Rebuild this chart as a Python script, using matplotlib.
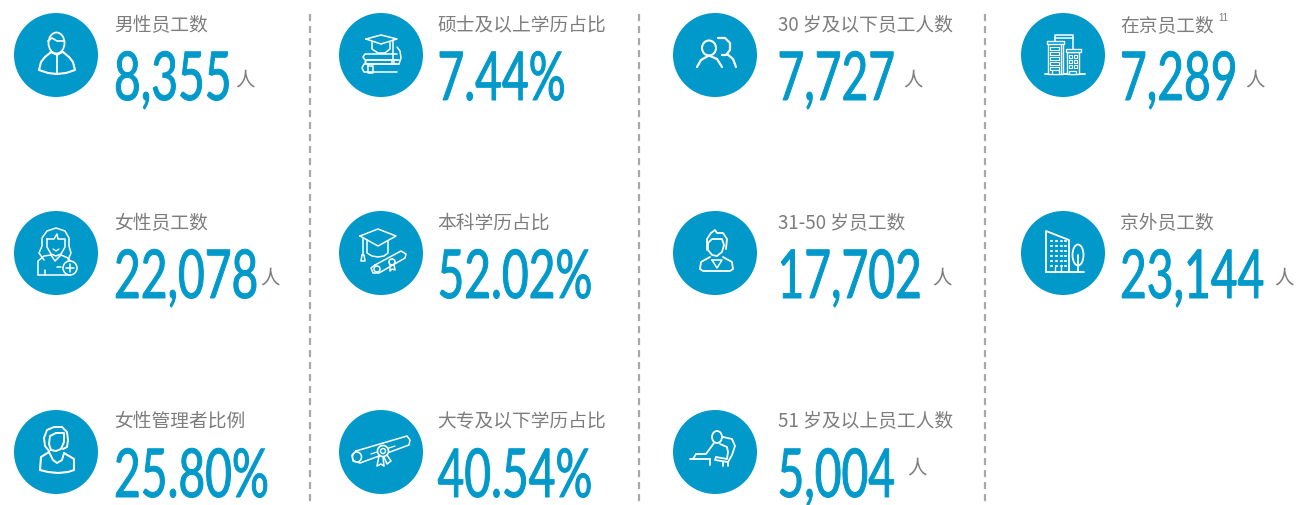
"""KPI panel: headcount and education/age/location stats, drawn in pixel coordinates."""
import matplotlib
matplotlib.use("Agg")
import matplotlib.pyplot as plt
import numpy as np
from matplotlib.patches import Circle, Ellipse, Rectangle
from matplotlib.patheffects import AbstractPathEffect
from matplotlib.transforms import Affine2D, Bbox

W, H = 1302, 505
BLUE = "#0099c9"
GREY = "#7d7d7d"
LINE = "#a9a9a9"
CJK = ["Noto Sans CJK SC", "DejaVu Sans"]

col1_labels = ["男性员工数", "女性员工数", "女性管理者比例"]
col1_values = ["8,355", "22,078", "25.80%"]
col2_labels = ["硕士及以上学历占比", "本科学历占比", "大专及以下学历占比"]
col2_values = ["7.44%", "52.02%", "40.54%"]
col3_labels = ["30 岁及以下员工人数", "31-50 岁员工数", "51 岁及以上员工人数"]
col3_values = ["7,727", "17,702", "5,004"]
col4_labels = ["在京员工数", "京外员工数"]
col4_values = ["7,289", "23,144"]
unit = "人"
footnote = "11"

ROW_Y = [55, 253, 452]
LABEL_Y = [25.5, 223.5, 421.5]
BASE_Y = [100, 298, 497]
DIVIDERS = [310, 639, 985]
NUM_SX = 0.685


class Squeeze(AbstractPathEffect):
    # condensed look: no condensed font installed that matches, so narrow the
    # glyphs and add a little stroke back
    def __init__(self, sx, extra=1.0):
        super().__init__()
        self.sx = sx
        self.extra = extra

    def draw_path(self, renderer, gc, tpath, affine, rgbFace=None):
        gc0 = renderer.new_gc()
        gc0.copy_properties(gc)
        gc0.set_linewidth(self.extra)
        gc0.set_foreground(rgbFace)
        renderer.draw_path(gc0, tpath, Affine2D().scale(self.sx, 1) + affine, rgbFace)
        gc0.restore()


fig = plt.figure(figsize=(W / 100, H / 100), dpi=100)
ax = fig.add_axes([0, 0, 1, 1])
ax.set_xlim(0, W)
ax.set_ylim(H, 0)
ax.axis("off")


def pl(cx, cy, pts, lw=1.1, closed=False):
    pts = np.array(pts, dtype=float)
    if closed:
        pts = np.vstack([pts, pts[0]])
    ax.plot(cx + pts[:, 0], cy + pts[:, 1], color="white", lw=lw,
            solid_joinstyle="round", solid_capstyle="round", zorder=3)


def ell(cx, cy, x, y, rx, ry, lw=1.1, fill=False):
    ax.add_patch(Ellipse((cx + x, cy + y), 2 * rx, 2 * ry, fc=BLUE if fill else "none",
                         ec="white", lw=lw, zorder=3))


def rect(cx, cy, x0, y0, x1, y1, lw=1.0):
    ax.add_patch(Rectangle((cx + x0, cy + y0), x1 - x0, y1 - y0, fc=BLUE, ec="white",
                           lw=lw, zorder=3))


def icon_man(cx, cy):
    ell(cx, cy, 0.5, -12, 8, 10.5, 1.3)
    pl(cx, cy, [(-8, -14), (-4, -17), (1, -14), (8, -14)], 1.2)
    pl(cx, cy, [(-6, -2), (-11, 2), (-15, 7), (-17, 15), (-8, 18), (1, 19), (10, 18),
                (19, 15), (17, 7), (13, 2), (7, -3)], 1.5)
    pl(cx, cy, [(1, 0), (1, 18)], 1.3)
    pl(cx, cy, [(-6, -3), (1, 0), (7, -3)], 1.1)


def icon_woman_plus(cx, cy):
    pl(cx, cy, [(-12, 7), (-17, 0), (-14, -7), (-14, -15), (-9, -22), (0, -25), (9, -22),
                (13, -15), (13, -7), (15, 0), (12, 7)])
    pl(cx, cy, [(-9, -14), (-9, -6), (-5, 1), (0, 3), (5, 1), (9, -6), (9, -14),
                (2, -14), (1, -19), (-2, -14), (-9, -14)])
    pl(cx, cy, [(-3, -4), (0, -2), (3, -4)], 0.9)
    pl(cx, cy, [(-18, 22), (-18, 8), (-12, 3), (-5, 2), (-1, 8), (5, 2), (12, 5), (15, 9)])
    pl(cx, cy, [(-18, 22), (14, 22)])
    pl(cx, cy, [(-11, 17), (-11, 22)])
    pl(cx, cy, [(1, 14), (5, 14)])
    ell(cx, cy, 14, 15, 7, 7, 1.1, fill=True)
    pl(cx, cy, [(10, 15), (18, 15)])
    pl(cx, cy, [(14, 11), (14, 19)])


def icon_manager(cx, cy):
    pl(cx, cy, [(-7, -1), (-11, -6), (-12, -14), (-9, -22), (-2, -25), (6, -25), (11, -20),
                (12, -12), (11, -5), (7, -3)], 1.4)
    pl(cx, cy, [(-5, -2), (-7, -8), (-6, -16), (0, -19), (8, -19), (8, -10), (5, -3),
                (0, -1), (-5, -2)], 1.4)
    pl(cx, cy, [(-7, 0), (-15, 5), (-16, 18), (-8, 20), (2, 21), (12, 20), (18, 18),
                (18, 7), (8, 1)], 1.5)
    pl(cx, cy, [(-7, 0), (-3, 8), (1, 11), (6, 8), (8, 1)], 1.4)


def icon_hat_books(cx, cy):
    pl(cx, cy, [(-15, -16), (0, -20), (16, -16), (0, -11)], closed=True)
    pl(cx, cy, [(-9, -13), (-9, -6), (-3, -2), (4, -2), (9, -6), (9, -13)])
    pl(cx, cy, [(12, -15), (12, 5)])
    pl(cx, cy, [(11, 5), (13, 5), (13, 9), (11, 9)], closed=True)
    for y0, y1, x0, x1 in [(-1, 5, -18, 16), (5, 9, -16, 18), (9, 17, -19, 16)]:
        pl(cx, cy, [(x1, y0), (x0 + 2, y0), (x0, (y0 + y1) / 2), (x0 + 2, y1), (x1, y1)])
    pl(cx, cy, [(16, -8), (19, -4), (20, 3), (18, 9)])
    pl(cx, cy, [(-13, 11), (-8, 11), (-8, 18), (-13, 18)], closed=True)


def icon_hat_scroll(cx, cy):
    pl(cx, cy, [(-21, -17), (-3, -24), (15, -17), (-3, -7)], closed=True)
    pl(cx, cy, [(-14, -13), (-14, 0), (-9, 3), (-3, 4), (3, 3), (7, 0), (7, -12)])
    pl(cx, cy, [(-18, -15), (-18, 2)])
    pl(cx, cy, [(-19, 2), (-17, 2), (-16, 8), (-20, 8)], closed=True)
    pl(cx, cy, [(-6, 12), (20, -2), (25, 1), (24, 5), (-2, 20), (-8, 20), (-10, 15)], closed=True)
    ell(cx, cy, -4, 16, 3, 3)
    ell(cx, cy, 11, 9, 3, 3, 1.2, fill=True)
    pl(cx, cy, [(9, 12), (9, 18), (11, 16), (14, 17), (13, 11)])


def icon_diploma(cx, cy):
    pl(cx, cy, [(-25, -1), (26, -16), (29, -12), (28, -7), (-21, 11), (-28, 9), (-29, 3)], closed=True)
    ell(cx, cy, -24, 5, 4.5, 5)
    pl(cx, cy, [(-10, 2), (14, -6)], 0.9)
    pl(cx, cy, [(-2, 4), (-4, 14), (0, 12), (3, 14), (2, 5)])
    pl(cx, cy, [(3, 5), (6, 12), (10, 9), (6, 3)])
    ell(cx, cy, 2, -1, 5.5, 5.5, 1.2, fill=True)
    ell(cx, cy, 2, -1, 2.5, 2.5, 1.0)


def icon_people(cx, cy):
    ell(cx, cy, -6, -7, 7, 7.5, 1.5)
    pl(cx, cy, [(-18, 12), (-14, 5), (-6, 0.5), (2, 4), (7, 12)], 1.6)
    pl(cx, cy, [(3, -17), (10, -17), (15, -12), (15, -5), (11, 0), (7, 0)], 1.6)
    pl(cx, cy, [(12, -1), (18, 4), (21, 12)], 1.6)


def icon_young(cx, cy):
    pl(cx, cy, [(-8, -3), (-8, -14), (-4, -20), (0, -23), (2, -20), (8, -20), (12, -14),
                (11, -4)], 1.3)
    pl(cx, cy, [(-7, -10), (-3, -14), (7, -14), (9, -8), (7, -1), (2, 3), (-3, 2), (-7, -3), (-7, -10)], 1.3)
    pl(cx, cy, [(-5, 4), (-14, 9), (-15, 16), (-12, 18), (15, 18), (18, 16), (17, 9), (8, 4)], 1.3)
    pl(cx, cy, [(-3, 7), (2, 15), (7, 7)], closed=True)


def icon_seated(cx, cy):
    ell(cx, cy, 2, -15, 5, 6, 1.3)
    pl(cx, cy, [(8, -15), (17, -13), (20, -6), (17, 3), (13, 10)], 1.3)
    pl(cx, cy, [(-1, -9), (-9, 2), (-19, 2), (-22, 7)], 1.3)
    pl(cx, cy, [(-25, 7), (-5, 7)], 1.3)
    pl(cx, cy, [(-5, 7), (-5, 13)], 1.3)
    pl(cx, cy, [(5, -8), (12, -5), (13, 0), (12, 7), (1, 5), (0, 8), (13, 10), (13, 14)], 1.3)
    pl(cx, cy, [(8, 10), (8, 14)], 1.3)


def icon_towers(cx, cy):
    pl(cx, cy, [(-18, 19), (22, 19)], 1.3)
    pl(cx, cy, [(-8, -13), (-8, -20), (10, -20), (10, -6)])
    pl(cx, cy, [(-8, -17), (10, -17)])
    rect(cx, cy, -15, -12, 0, 19)
    rect(cx, cy, -16, -14, 1, -11)
    for y in range(-8, 16, 5):
        pl(cx, cy, [(-13, y), (-4, y), (-4, y + 3), (-13, y + 3)], 0.8, closed=True)
    pl(cx, cy, [(-2, -10), (-2, 19)], 1.0)
    rect(cx, cy, 4, -3, 16, 19)
    rect(cx, cy, 3, -6, 18, -3)
    for y in range(0, 14, 5):
        for x in (6, 11):
            rect(cx, cy, x, y, x + 3, y + 3, 0.8)
    rect(cx, cy, -11, 15, -4, 19, 0.9)
    rect(cx, cy, 6, 16, 13, 19, 0.9)


def icon_tower_tree(cx, cy):
    pl(cx, cy, [(-17, 19), (-17, -22), (6, -13), (6, 19)], 1.3)
    pl(cx, cy, [(-17, 19), (21, 19)], 1.3)
    for x in (-12, -7, -2, 2):
        for y in range(-12, 14, 5):
            pl(cx, cy, [(x, y), (x + 0.6, y)], 1.5)
    pl(cx, cy, [(-8, 14), (-8, 19)], 1.0)
    pl(cx, cy, [(-2, 14), (-2, 19)], 1.0)
    ell(cx, cy, 15, 2, 5.5, 10.5, 1.3)
    pl(cx, cy, [(15, 2), (15, 19)], 1.3)


def number(x, y, s):
    t = ax.text(x, y, s, fontsize=48.5, color=BLUE, family=["Lato", "DejaVu Sans"],
                ha="left", va="baseline", path_effects=[Squeeze(NUM_SX, 0.7)], zorder=2)
    full = t.get_window_extent

    # report the narrowed box, not the box of the unsqueezed glyphs
    def narrow(renderer=None, dpi=None):
        bb = full(renderer, dpi)
        return Bbox.from_extents(bb.x0, max(bb.y0, 1), bb.x0 + bb.width * NUM_SX, bb.y1)

    t.get_window_extent = narrow


def label(x, y, s):
    ax.text(x, y, s, fontsize=13.5, color=GREY, family=CJK, ha="left", va="center", zorder=2)


def person(x, y):
    ax.text(x, y, unit, fontsize=14, color=GREY, family=CJK, ha="center", va="center", zorder=2)


columns = [
    (56, 114, col1_labels, col1_values, [icon_man, icon_woman_plus, icon_manager], [245, 270, None], [80, 278, None]),
    (381, 437.5, col2_labels, col2_values, [icon_hat_books, icon_hat_scroll, icon_diploma], [None] * 3, [None] * 3),
    (715, 777.5, col3_labels, col3_values, [icon_people, icon_young, icon_seated], [913, 942, 917], [80, 278, 468]),
    (1063, 1120, col4_labels, col4_values, [icon_towers, icon_tower_tree], [1255, 1284], [80, 278]),
]

for cx, tx, labs, vals, icons, ux, uy in columns:
    for i, (lab, val, draw_icon) in enumerate(zip(labs, vals, icons)):
        ax.add_patch(Circle((cx, ROW_Y[i]), 42, fc=BLUE, ec="none", zorder=1))
        draw_icon(cx, ROW_Y[i])
        label(tx, LABEL_Y[i], lab)
        number(tx, BASE_Y[i], val)
        if ux[i] is not None:
            person(ux[i], uy[i])

ax.text(1218, 18, footnote, fontsize=7, color=GREY, family=["Liberation Sans"], ha="left", va="center")

for x in DIVIDERS:
    ax.plot([x, x], [14, 503], color=LINE, lw=1.6, dashes=(3.2, 2.2), zorder=1)

fig.savefig("out.png", dpi=100)
